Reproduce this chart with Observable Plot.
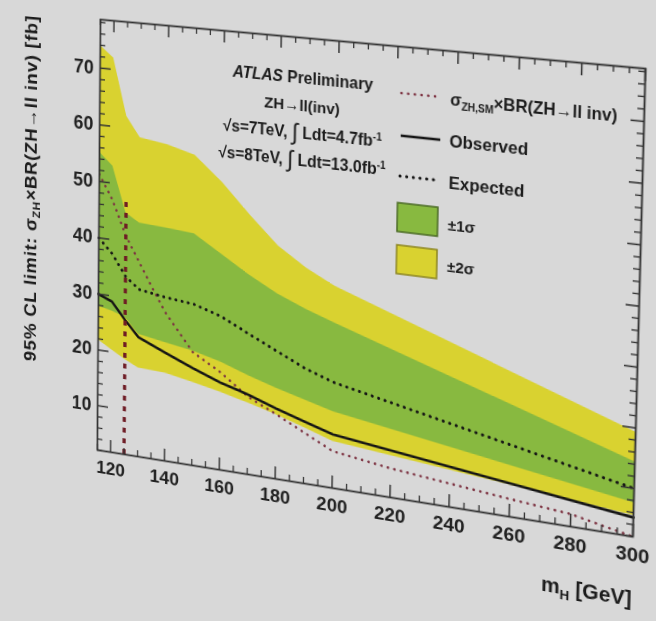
<!DOCTYPE html>
<html><head><meta charset="utf-8">
<script src="https://cdn.jsdelivr.net/npm/d3@7"></script>
<script src="https://cdn.jsdelivr.net/npm/@observablehq/plot@0.6"></script>
<style>
html,body{margin:0;padding:0;background:#d8d8d8;width:656px;height:621px;overflow:hidden;}
#chart{position:absolute;left:0;top:0;}
#chart svg{transform-origin:0 0;}
#chart text{font-weight:bold;}
</style></head><body><div id="chart"></div>
<script>
// ---- data ----
const mass      = [115, 120, 125, 130, 140, 150, 160, 170, 180, 190, 200, 300];
const yellowHi  = [74, 72, 62, 58.5, 57.8, 56.5, 52.3, 47.2, 42.5, 39.3, 36.8, 19.3];
const greenHi   = [55.2, 53, 45, 43.5, 43.2, 42.8, 39.8, 36.8, 34.2, 32.2, 30.5, 14.4];
const expected  = [40, 37.5, 33.8, 31.8, 31, 30.5, 29, 26.6, 24.3, 22, 20.3, 10];
const greenLo   = [27.8, 27.3, 26.5, 23.8, 23, 22.2, 21, 19.3, 17.8, 16.5, 15.2, 7.6];
const yellowLo  = [21.8, 20.4, 19, 17.8, 17.6, 16.7, 15.7, 14.5, 13.2, 11.7, 10.1, 5.5];
const observed  = [30, 29, 26, 23.3, 21.2, 19.2, 17.4, 16, 14.3, 12.8, 11.3, 5.2];
const smMass    = [115, 120, 125, 135, 140, 150, 160, 170, 180, 200, 220, 260, 280, 300];
const smValue   = [51.3, 47, 41, 32.3, 28.2, 22, 19.2, 15.6, 13.3, 8.4, 7, 5, 4.1, 2];
const markerMass = [125];
const markerTop  = [47.4];
const xTicks = [120, 140, 160, 180, 200, 220, 240, 260, 280, 300];
const yTicks = [10, 20, 30, 40, 50, 60, 70];
const xDomain = [115, 300];
const yDomain = [2, 78.5];

// ---- layout / style ----
const W = 656, H = 621, mL = 100, mT = 18, mR = 11, mB = 163;
const fW = W - mL - mR, fH = H - mT - mB;
const YEL = "#d9d230", GRN = "#88b940", INK = "#151515", SM = "#7d3342", MARK = "#6e1b24", AX = "#333";

const rows = mass.map((m, i) => ({m, yl: yellowLo[i], yh: yellowHi[i], gl: greenLo[i], gh: greenHi[i], exp: expected[i], obs: observed[i]}));
const smRows = smMass.map((m, i) => ({m, v: smValue[i]}));
const marker = markerMass.map((m, i) => ({m, top: markerTop[i]}));
const xMinor = d3.range(xDomain[0], xDomain[1] + 0.1, 5).filter(v => !xTicks.includes(v));
const yMinor = d3.range(2, yDomain[1], 2).filter(v => !yTicks.includes(v));

const plot = Plot.plot({
  width: W, height: H, marginLeft: mL, marginTop: mT, marginRight: mR, marginBottom: mB,
  style: {background: "transparent", fontFamily: "'Liberation Sans', Arial, sans-serif", color: "#222", overflow: "visible"},
  x: {domain: xDomain},
  y: {domain: yDomain},
  marks: [
    Plot.areaY(rows, {x: "m", y1: "yl", y2: "yh", fill: YEL}),
    Plot.areaY(rows, {x: "m", y1: "gl", y2: "gh", fill: GRN}),
    Plot.line(smRows, {x: "m", y: "v", stroke: SM, strokeWidth: 2.6, strokeDasharray: "0.1,6.5", strokeLinecap: "round", clip: true}),
    Plot.line(rows, {x: "m", y: "exp", stroke: INK, strokeWidth: 3, strokeDasharray: "0.1,6.5", strokeLinecap: "round"}),
    Plot.line(rows, {x: "m", y: "obs", stroke: INK, strokeWidth: 2.6}),
    Plot.ruleX(marker, {x: "m", y1: () => yDomain[0], y2: "top", stroke: MARK, strokeWidth: 3.5, strokeDasharray: "5,6"}),
    Plot.tickX(xTicks, {x: d => d, insetTop: fH - 12, stroke: AX, strokeWidth: 1.5}),
    Plot.tickX(xTicks, {x: d => d, insetBottom: fH - 12, stroke: AX, strokeWidth: 1.5}),
    Plot.tickX(xMinor, {x: d => d, insetTop: fH - 6, stroke: AX, strokeWidth: 1.3}),
    Plot.tickX(xMinor, {x: d => d, insetBottom: fH - 6, stroke: AX, strokeWidth: 1.3}),
    Plot.tickY(yTicks, {y: d => d, insetRight: fW - 12, stroke: AX, strokeWidth: 1.5}),
    Plot.tickY(yTicks, {y: d => d, insetLeft: fW - 12, stroke: AX, strokeWidth: 1.5}),
    Plot.tickY(yMinor, {y: d => d, insetRight: fW - 6, stroke: AX, strokeWidth: 1.3}),
    Plot.tickY(yMinor, {y: d => d, insetLeft: fW - 6, stroke: AX, strokeWidth: 1.3}),
    Plot.frame({stroke: AX, strokeWidth: 1.8}),
    Plot.axisX(xTicks, {anchor: "bottom", tickSize: 0, tickPadding: 10, fontSize: 19, fontWeight: "bold", label: null, fill: "#222"}),
    Plot.axisY(yTicks, {anchor: "left", tickSize: 0, tickPadding: 7, fontSize: 19.5, fontWeight: "bold", label: null, fill: "#222"})
  ]
});
document.getElementById("chart").appendChild(plot);

// ---- annotations & legend (svg coords inside the frame) ----
const svg = d3.select(plot);
const g = svg.append("g").attr("font-family", "'Liberation Sans', Arial, sans-serif").attr("fill", "#1c1c1c")
  .attr("font-weight", "bold").attr("text-anchor", "start");

// y title
const yt = g.append("text").attr("transform", "translate(31,21) rotate(-90)").attr("text-anchor", "end").attr("font-size", 19)
  .attr("textLength", 356).attr("lengthAdjust", "spacing");
yt.append("tspan").text("95% CL limit: σ");
yt.append("tspan").attr("font-size", 12).attr("dy", 4).text("ZH");
yt.append("tspan").attr("dy", -4).text("×BR(ZH→ll inv) [fb]");
// x title
const xt = g.append("text").attr("x", 646).attr("y", 525).attr("text-anchor", "end").attr("font-size", 20);
xt.append("tspan").text("m");
xt.append("tspan").attr("font-size", 13).attr("dy", 5).text("H");
xt.append("tspan").attr("dy", -5).text(" [GeV]");

// ATLAS block
const cx = 314;
const a1 = g.append("text").attr("x", cx).attr("y", 63).attr("text-anchor", "middle").attr("font-size", 16);
a1.append("tspan").attr("font-style", "italic").text("ATLAS");
a1.append("tspan").text(" Preliminary");
g.append("text").attr("x", cx).attr("y", 90).attr("text-anchor", "middle").attr("font-size", 15.5).text("ZH→ll(inv)");
const l3 = g.append("text").attr("x", cx).attr("y", 117).attr("text-anchor", "middle").attr("font-size", 16);
l3.append("tspan").text("√s=7TeV, ");
l3.append("tspan").attr("font-size", 23).attr("font-weight", "normal").attr("dy", 2).text("∫");
l3.append("tspan").attr("dy", -2).text(" Ldt=4.7fb");
l3.append("tspan").attr("font-size", 10).attr("dy", -6).text("-1");
const l4 = g.append("text").attr("x", cx).attr("y", 144).attr("text-anchor", "middle").attr("font-size", 16);
l4.append("tspan").text("√s=8TeV, ");
l4.append("tspan").attr("font-size", 23).attr("font-weight", "normal").attr("dy", 2).text("∫");
l4.append("tspan").attr("dy", -2).text(" Ldt=13.0fb");
l4.append("tspan").attr("font-size", 10).attr("dy", -6).text("-1");

// legend
const lx0 = 414, lx1 = 453, tx = 462;
g.append("line").attr("x1", lx0).attr("x2", lx1).attr("y1", 63).attr("y2", 63).attr("stroke", SM).attr("stroke-width", 2.6).attr("stroke-dasharray", "0.1,6.5").attr("stroke-linecap", "round");
const s1 = g.append("text").attr("x", tx).attr("y", 70).attr("font-size", 16);
s1.append("tspan").text("σ");
s1.append("tspan").attr("font-size", 10).attr("dy", 4).text("ZH,SM");
s1.append("tspan").attr("dy", -4).text("×BR(ZH→ll inv)");
g.append("line").attr("x1", lx0).attr("x2", lx1).attr("y1", 104).attr("y2", 104).attr("stroke", INK).attr("stroke-width", 2.6);
g.append("text").attr("x", tx).attr("y", 110).attr("font-size", 16.5).text("Observed");
g.append("line").attr("x1", lx0).attr("x2", lx1).attr("y1", 143).attr("y2", 143).attr("stroke", INK).attr("stroke-width", 3).attr("stroke-dasharray", "0.1,6.5").attr("stroke-linecap", "round");
g.append("text").attr("x", tx).attr("y", 150).attr("font-size", 16.5).text("Expected");
g.append("rect").attr("x", 412).attr("y", 169).attr("width", 40).attr("height", 28).attr("fill", GRN).attr("stroke", "#4b6b26").attr("stroke-width", 1.5);
g.append("text").attr("x", tx).attr("y", 190).attr("font-size", 15).text("±1σ");
g.append("rect").attr("x", 412).attr("y", 210).attr("width", 40).attr("height", 28).attr("fill", YEL).attr("stroke", "#8d8622").attr("stroke-width", 1.5);
g.append("text").attr("x", tx).attr("y", 230).attr("font-size", 15).text("±2σ");

// ---- photo perspective: fit a homography from data points to where they sit in the photo ----
const calib = [ // [mass, value, photoX, photoY]
  [115, 78.5, 100, 18.3], [300, 78.5, 645, 69], [300, 2, 633, 537], [115, 2, 95, 449],
  [120, 2, 112, 451.8], [140, 2, 167, 460.8], [200, 2, 333, 488], [240, 2, 445, 506.3], [280, 2, 567, 526.2],
  [115, 70, 99.4, 68], [115, 10, 95.6, 405], [300, 70, 643, 121], [300, 20, 639, 425]
];
const sx = plot.scale("x"), sy = plot.scale("y");
function solve(A, b) {
  const n = b.length, M = A.map((r, i) => [...r, b[i]]);
  for (let c = 0; c < n; c++) {
    let p = c; for (let r = c + 1; r < n; r++) if (Math.abs(M[r][c]) > Math.abs(M[p][c])) p = r;
    [M[c], M[p]] = [M[p], M[c]];
    for (let r = 0; r < n; r++) if (r !== c) { const f = M[r][c] / M[c][c]; for (let k = c; k <= n; k++) M[r][k] -= f * M[c][k]; }
  }
  return M.map((r, i) => r[n] / r[i]);
}
const N = Array.from({length: 8}, () => Array(8).fill(0)), R = Array(8).fill(0);
for (const [m, v, u0, v0] of calib) {
  const X = sx.apply(m) / 100, Y = sy.apply(v) / 100, U = u0 / 100, V = v0 / 100;
  for (const [row, rhs] of [[[X, Y, 1, 0, 0, 0, -X * U, -Y * U], U], [[0, 0, 0, X, Y, 1, -X * V, -Y * V], V]]) {
    for (let i = 0; i < 8; i++) { R[i] += row[i] * rhs; for (let j = 0; j < 8; j++) N[i][j] += row[i] * row[j]; }
  }
}
const [a, b, c, d, e, f, gg, hh] = solve(N, R);
plot.style.transform = `matrix3d(${a},${d},0,${gg / 100},${b},${e},0,${hh / 100},0,0,1,0,${c * 100},${f * 100},0,1)`;
</script></body></html>
